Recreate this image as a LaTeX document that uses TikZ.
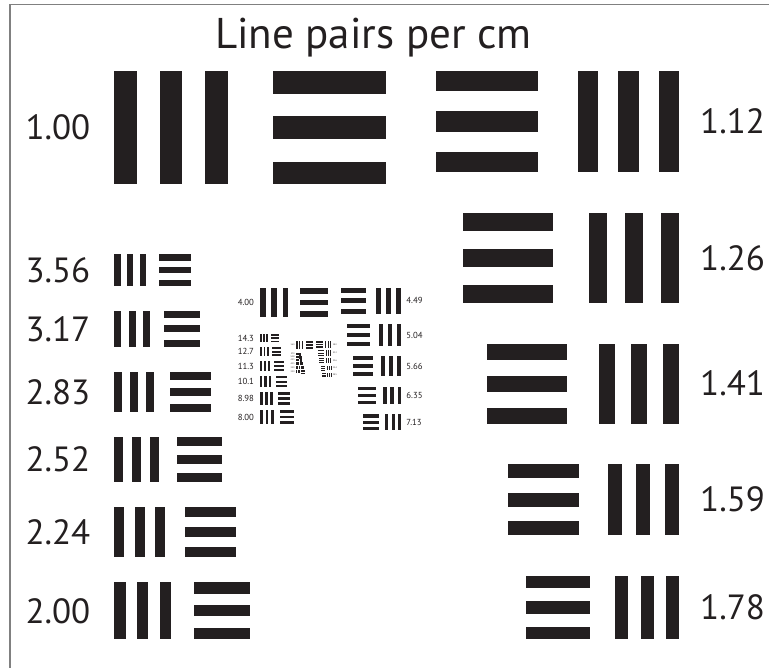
\documentclass[tikz,border=0pt]{standalone}
\usepackage{fontspec}
\setmainfont{PT Sans}
\definecolor{barc}{RGB}{35,31,32}
\definecolor{framec}{RGB}{128,128,128}
\tikzset{
  bar/.style={fill=barc},
  lab/.style={inner sep=0pt, text=barc, font=\fontsize{35bp}{35bp}\selectfont},
  titlestyle/.style={inner sep=0pt, text=barc, font=\fontsize{43bp}{43bp}\selectfont},
  framestyle/.style={draw=framec, line width=1.5bp},
}
% three vertical bars: x, y (top), size
\newcommand\vbars[3]{%
  \pgfmathsetmacro\bw{(#3)/5}%
  \fill[bar] ({#1},{#2}) rectangle ++(\bw,{#3});%
  \fill[bar] ({#1+2*\bw},{#2}) rectangle ++(\bw,{#3});%
  \fill[bar] ({#1+4*\bw},{#2}) rectangle ++(\bw,{#3});%
}
% three horizontal bars: x, y (top), size
\newcommand\hbars[3]{%
  \pgfmathsetmacro\bw{(#3)/5}%
  \fill[bar] ({#1},{#2}) rectangle ++({#3},\bw);%
  \fill[bar] ({#1},{#2+2*\bw}) rectangle ++({#3},\bw);%
  \fill[bar] ({#1},{#2+4*\bw}) rectangle ++({#3},\bw);%
}
% left-side element: name, n, label, gap after
\newcommand\Lrow[4]{%
  \pgfmathsetmacro\sz{113.4*pow(2,-(#2)/6)}%
  \vbars{114.3}{\cury}{\sz}%
  \hbars{114.3+1.4*\sz}{\cury}{\sz}%
  \node[lab, anchor=east] (#1) at (90.5,{\cury+\sz/2}) {#3};%
  \pgfmathsetmacro\nexty{\cury+\sz+(#4)}%
  \xdef\cury{\nexty}%
}
% right-side element: name, n, label
\newcommand\Rrow[3]{%
  \pgfmathsetmacro\sz{113.4*pow(2,-(#2)/6)}%
  \hbars{679-2.4*\sz}{\cury}{\sz}%
  \vbars{679-\sz}{\cury}{\sz}%
  \node[lab, anchor=west] (#1) at (700,{\cury+\sz/2}) {#3};%
  \pgfmathsetmacro\nexty{\cury+\sz+40.2}%
  \xdef\cury{\nexty}%
}
\begin{document}
\begin{tikzpicture}[x=1bp, y=-1bp]
\useasboundingbox (0,0) rectangle (769,668);
\draw[framestyle] (10,668) -- (10,4.7) -- (769,4.7);
\node[titlestyle, anchor=base] (title) at (373.3,48.3) {Line pairs per cm};

% ---- main chart (groups 0 and 1)
\begin{scope}
  \xdef\cury{71}\Lrow{m-a}{0}{1.00}{0}
  \xdef\cury{71}\Rrow{m-b}{1}{1.12}
  \xdef\cury{213.3}
  \foreach \n/\t [count=\i] in {2/1.26,3/1.41,4/1.59,5/1.78} {\Rrow{m-r\i}{\n}{\t}}
  \xdef\cury{254.2}
  \foreach \n/\t [count=\i] in {11/3.56,10/3.17,9/2.83,8/2.52,7/2.24,6/2.00} {\Lrow{m-l\i}{\n}{\t}{25}}
\end{scope}

% ---- inner chart (groups 2 and 3)
\begin{scope}[shift={(231.4,270.55)}, scale=0.25, every node/.append style={transform shape}]
  \xdef\cury{71}\Lrow{i-a}{0}{4.00}{0}
  \xdef\cury{71}\Rrow{i-b}{1}{4.49}
  \xdef\cury{213.3}
  \foreach \n/\t [count=\i] in {2/5.04,3/5.66,4/6.35,5/7.13} {\Rrow{i-r\i}{\n}{\t}}
  \xdef\cury{255}
  \foreach \n/\t [count=\i] in {11/14.3,10/12.7,9/11.3,8/10.1,7/8.98,6/8.00} {\Lrow{i-l\i}{\n}{\t}{19.8}}
\end{scope}

% ---- innermost chart (groups 4 and 5)
\begin{scope}[shift={(289,337)}, scale=0.0625, every node/.append style={transform shape}]
  \xdef\cury{71}\Lrow{s-a}{0}{16.0}{0}
  \xdef\cury{71}\Rrow{s-b}{1}{18.0}
  \xdef\cury{213.3}
  \foreach \n/\t [count=\i] in {2/20.2,3/22.6,4/25.4,5/28.5} {\Rrow{s-r\i}{\n}{\t}}
  \xdef\cury{255}
  \foreach \n/\t [count=\i] in {11/57.0,10/50.8,9/45.3,8/40.3,7/35.9,6/32.0} {\Lrow{s-l\i}{\n}{\t}{13}}
\end{scope}
\end{tikzpicture}
\end{document}
